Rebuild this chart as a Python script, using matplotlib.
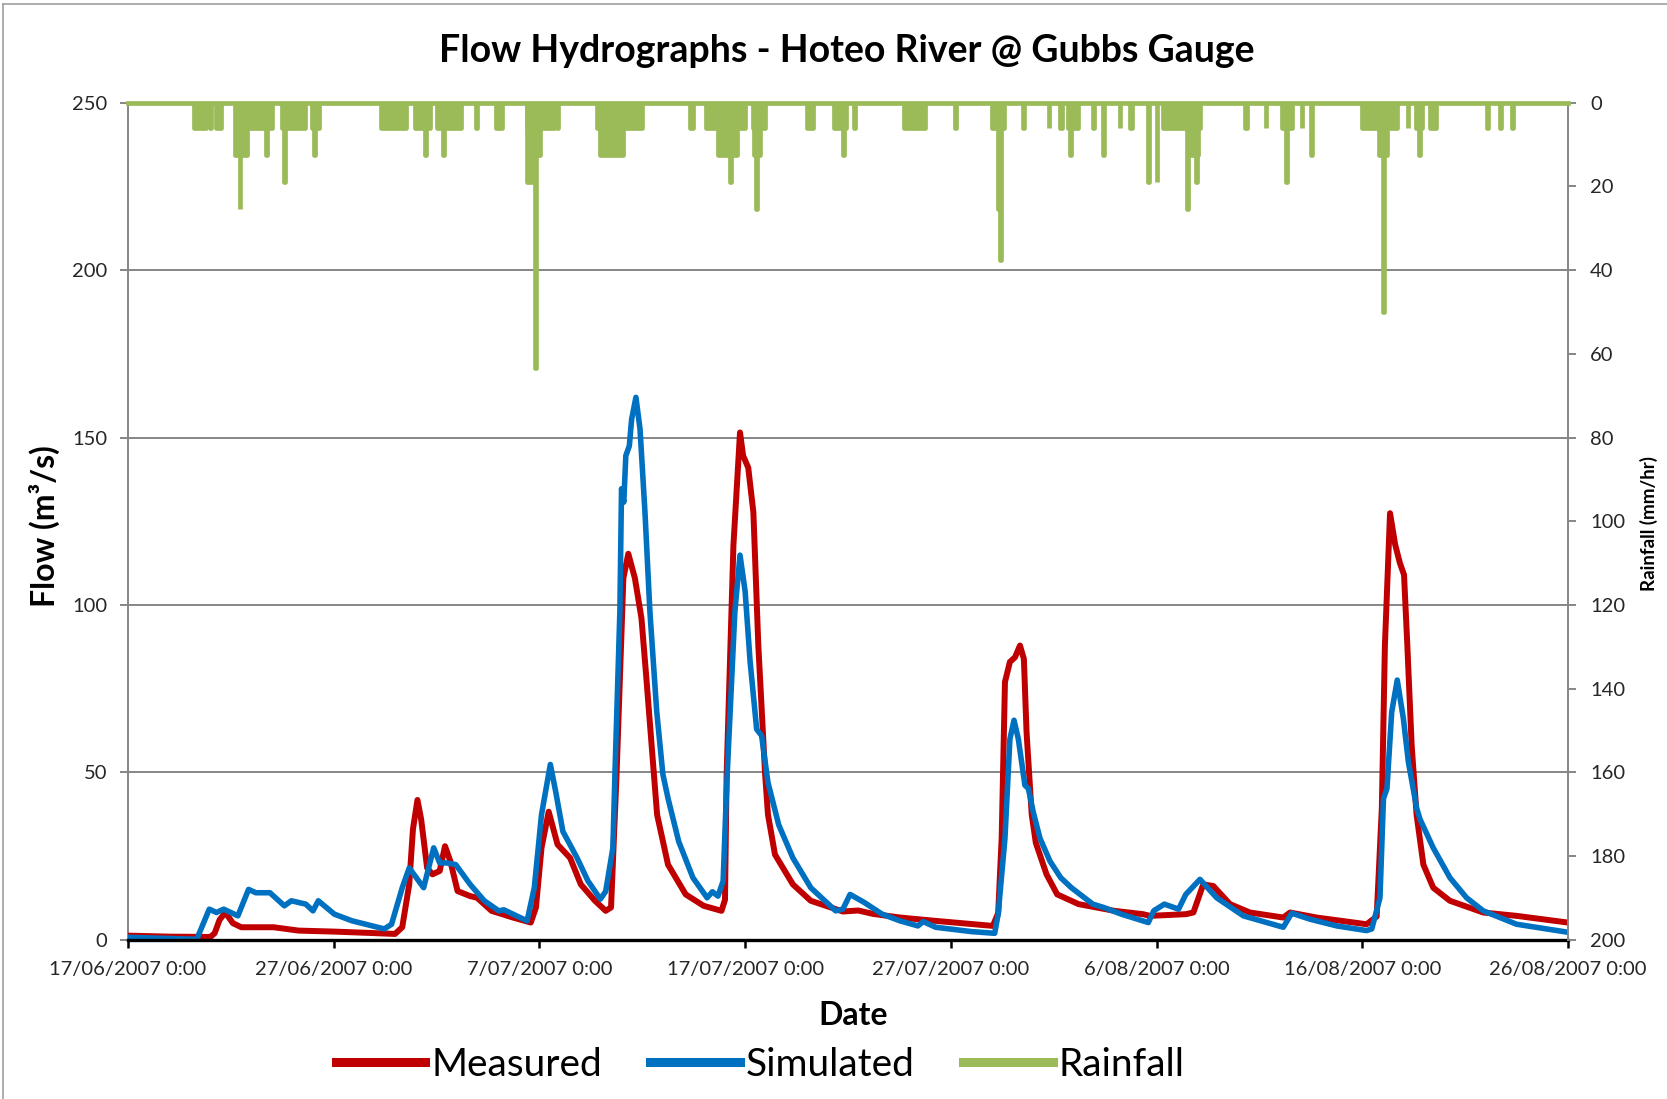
import numpy as np
import matplotlib
matplotlib.use("Agg")
import matplotlib.pyplot as plt
from matplotlib.lines import Line2D

plt.rcParams['font.family'] = ['Lato', 'DejaVu Sans']

# --- data (days after 17/06/2007 0:00) ---
measured_day = [0.0, 2.0, 4.0, 4.21, 4.45, 4.73, 5.1, 5.51, 7.08, 8.29, 10.03, 11.76, 12.98,
                13.33, 13.67, 13.85, 14.07, 14.25, 14.54, 14.8, 15.15, 15.41, 15.67, 16.02,
                16.63, 16.97, 17.67, 18.71, 19.58, 19.83, 20.1, 20.45, 20.88, 21.49, 22.01,
                22.7, 23.22, 23.48, 23.75, 24.08, 24.32, 24.64, 24.96, 25.2, 25.45, 25.72,
                26.25, 27.11, 27.98, 28.85, 29.02, 29.1, 29.43, 29.75, 29.9, 30.15, 30.4,
                30.64, 30.97, 31.11, 31.45, 32.32, 33.19, 34.75, 35.5, 36.2, 37.53, 39.26,
                42.04, 42.3, 42.47, 42.63, 42.87, 43.12, 43.36, 43.55, 43.68, 43.93, 44.13,
                44.65, 45.17, 46.21, 47.95, 49.34, 49.68, 51.42, 51.79, 52.27, 52.76, 53.57,
                54.54, 56.16, 56.49, 57.78, 60.21, 60.7, 60.95, 61.1, 61.35, 61.6, 61.83,
                62.03, 62.19, 62.4, 62.64, 62.97, 63.45, 64.26, 65.88, 67.5, 70.0]
measured_flow = [1.3, 1.0, 0.9, 2.0, 6.0, 8.2, 5.0, 3.8, 3.8, 2.8, 2.5, 2.1, 1.8,
                 3.8, 16.6, 33.0, 41.8, 36.0, 21.5, 19.6, 20.6, 28.0, 23.5, 14.6,
                 13.1, 12.6, 8.7, 6.7, 5.2, 9.7, 27.5, 38.3, 28.5, 24.5, 16.6,
                 11.7, 8.7, 9.7, 49.5, 108.0, 115.3, 108.0, 96.0, 78.0, 58.4, 37.4,
                 22.5, 13.6, 10.2, 8.7, 12.0, 49.5, 117.8, 151.5, 144.6, 141.0, 127.7,
                 88.0, 49.5, 37.4, 25.5, 16.6, 11.7, 8.5, 8.8, 7.8, 6.7, 5.7,
                 4.2, 8.0, 30.4, 77.0, 83.0, 84.4, 87.9, 83.9, 62.0, 37.5, 29.0,
                 19.6, 13.6, 10.7, 8.7, 7.7, 7.2, 7.7, 8.2, 16.6, 16.1, 10.7,
                 8.2, 6.7, 8.2, 6.7, 4.7, 7.0, 39.2, 88.0, 127.4, 118.0, 112.5,
                 109.0, 88.0, 58.2, 37.4, 22.5, 15.6, 11.7, 8.2, 7.2, 5.2]

simulated_day = [0.0, 3.34, 3.95, 4.3, 4.65, 5.34, 5.86, 6.21, 6.9, 7.6, 7.94, 8.64, 8.99,
                 9.25, 10.03, 10.9, 12.46, 12.81, 13.33, 13.67, 14.37, 14.86, 15.15, 15.5,
                 15.93, 16.63, 17.32, 18.02, 18.27, 19.4, 19.75, 20.1, 20.53, 20.79, 21.14,
                 21.83, 22.36, 22.96, 23.22, 23.57, 23.67, 23.91, 23.99, 24.1, 24.2, 24.37,
                 24.48, 24.69, 24.89, 25.13, 25.37, 25.7, 26.0, 26.25, 26.77, 27.46, 28.15,
                 28.41, 28.68, 28.93, 29.11, 29.5, 29.75, 30.0, 30.24, 30.56, 30.8, 31.11,
                 31.63, 32.32, 33.19, 34.4, 34.75, 35.1, 35.79, 36.66, 37.53, 38.4, 38.66,
                 39.26, 41.0, 42.13, 42.3, 42.63, 42.87, 43.07, 43.28, 43.6, 43.77, 44.0,
                 44.33, 44.82, 45.34, 45.86, 46.9, 47.43, 48.29, 49.6, 49.86, 50.38, 51.07,
                 51.42, 52.11, 52.92, 54.22, 56.16, 56.57, 57.46, 58.76, 60.21, 60.46, 60.86,
                 61.03, 61.2, 61.43, 61.7, 62.0, 62.24, 62.65, 62.81, 63.45, 64.26, 65.07,
                 65.88, 67.5, 70.0]
simulated_flow = [0.8, 0.2, 9.2, 8.2, 9.2, 7.2, 15.1, 14.1, 14.1, 10.2, 11.7, 10.7, 8.7,
                  11.7, 7.7, 5.7, 3.3, 4.7, 15.6, 21.5, 15.6, 27.5, 23.0, 23.0,
                  22.5, 16.6, 11.7, 8.7, 9.0, 5.7, 15.6, 37.4, 52.4, 44.3, 32.4,
                  24.5, 17.6, 12.2, 14.5, 27.5, 49.5, 98.0, 134.7, 130.7, 144.6, 147.5,
                  155.4, 162.0, 152.5, 127.7, 98.0, 68.3, 49.5, 42.3, 29.4, 18.6, 12.6,
                  14.4, 13.1, 17.6, 47.2, 98.0, 114.9, 104.0, 83.2, 62.9, 61.0, 47.0,
                  34.4, 24.5, 15.6, 8.7, 9.2, 13.6, 11.2, 7.7, 5.7, 4.2, 5.5,
                  3.8, 2.5, 2.0, 7.7, 30.4, 60.0, 65.6, 60.0, 46.2, 45.2, 38.3,
                  30.4, 23.5, 18.6, 15.6, 10.7, 9.7, 7.7, 5.2, 8.7, 10.7, 9.2,
                  13.6, 18.1, 12.6, 7.2, 3.8, 8.0, 6.2, 4.2, 2.8, 3.3, 12.6,
                  42.2, 45.2, 68.0, 77.6, 66.0, 53.2, 39.2, 36.0, 27.5, 18.6, 12.6,
                  8.7, 4.7, 2.3]

# rainfall events: start (days), duration (hours), intensity (mm/hr)
rain_start = [3.2, 4.0, 4.3, 5.2, 5.42, 5.8, 6.7, 7.5, 7.6, 8.3, 8.95, 9.05,
              12.3, 13.95, 14.2, 14.45, 15.0, 15.32, 16.9, 17.9,
              19.4, 19.4, 19.79, 19.85, 20.85, 22.8, 22.95,
              27.3, 28.1, 28.7, 29.25, 29.75, 30.4, 30.45, 30.55,
              33.0, 34.3, 34.78, 35.3, 37.7, 38.0, 40.2, 42.0, 42.3, 42.38,
              43.5, 44.75, 45.3, 45.7, 45.8, 46.9, 47.4, 48.2, 48.7,
              49.6, 50.0, 50.3, 51.47, 51.6, 51.93,
              54.3, 55.3, 56.1, 56.28, 57.05, 57.5,
              60.0, 60.8, 61.0, 61.35, 62.2, 62.6, 62.78, 63.3, 66.05, 66.7, 67.3]
rain_hours = [14, 1, 5, 14, 1, 29, 1, 17, 1, 7, 8, 1,
              29, 4, 12, 1, 29, 1, 1, 7,
              31, 6, 1, 4, 1, 53, 27,
              4, 36, 22, 2, 6, 14, 7, 1,
              7, 14, 1, 1, 5, 18, 1, 14, 2, 1,
              1, 1, 2, 12, 1, 1, 1, 1, 2,
              1, 1, 43, 1, 10, 1,
              2, 1, 12, 1, 1, 1,
              29, 10, 1, 8, 1, 7, 1, 7, 1, 1, 1]
rain_mm = [6, 6, 6, 12.5, 25.5, 6, 12.5, 6, 19, 6, 6, 12.5,
           6, 6, 6, 12.5, 6, 12.5, 6, 6,
           6, 19, 63.5, 12.5, 6, 6, 12.5,
           6, 6, 12.5, 19, 6, 6, 12.5, 25.5,
           6, 6, 12.5, 6, 6, 6, 6, 6, 25.5, 37.5,
           6, 6, 6, 6, 12.5, 6, 12.5, 6, 6,
           19, 19, 6, 25.5, 12.5, 19,
           6, 6, 6, 19, 6, 12.5,
           6, 12.5, 50, 6, 6, 6, 12.5, 6, 6, 6, 6]

tick_days = [0, 10, 20, 30, 40, 50, 60, 70]
tick_labels = ['17/06/2007 0:00', '27/06/2007 0:00', '7/07/2007 0:00', '17/07/2007 0:00',
               '27/07/2007 0:00', '6/08/2007 0:00', '16/08/2007 0:00', '26/08/2007 0:00']

RED = '#C00000'
BLUE = '#0070C0'
GREEN = '#9BBB59'
GRID = '#868686'
TXT = '#262626'

fig = plt.figure(figsize=(16.67, 10.99), dpi=100)
ax = fig.add_axes([0.0768, 0.1447, 0.8638, 0.762])
ax2 = ax.twinx()

ax.plot(measured_day, measured_flow, color=RED, lw=4.3, solid_joinstyle='round',
        solid_capstyle='round', zorder=3)
ax.plot(simulated_day, simulated_flow, color=BLUE, lw=4.0, solid_joinstyle='round',
        solid_capstyle='round', zorder=4)

ax.set_xlim(0, 70)
ax.set_ylim(0, 250)
ax.set_yticks(range(0, 251, 50))
ax.set_xticks(tick_days)
ax.set_xticklabels(tick_labels)
ax.grid(axis='y', color=GRID, lw=1.4)
ax.set_axisbelow(True)

# rainfall hangs from the top on an inverted secondary axis
ax2.bar(rain_start, rain_mm, width=np.array(rain_hours) / 24.0, align='edge',
        color=GREEN, edgecolor=GREEN, lw=3.4, joinstyle='round', zorder=2)
ax2.axhline(0, color=GREEN, lw=3.4, clip_on=False, zorder=3)
ax2.set_ylim(200, 0)
ax2.set_yticks(range(0, 201, 20))

for a in (ax, ax2):
    a.spines['top'].set_visible(False)
ax.spines['right'].set_visible(False)
ax2.spines['left'].set_visible(False)
ax2.spines['bottom'].set_visible(False)
ax.spines['left'].set_color(GRID)
ax.spines['left'].set_linewidth(1.4)
ax2.spines['right'].set_color(GRID)
ax2.spines['right'].set_linewidth(1.4)
ax.spines['bottom'].set_color('black')
ax.spines['bottom'].set_linewidth(2.4)
ax.spines['bottom'].set_zorder(5)

ax.tick_params(axis='x', direction='out', length=6, width=1.8, color='black',
               pad=9, labelsize=14.5, labelcolor=TXT)
ax.tick_params(axis='y', direction='out', length=6, width=1.4, color=GRID,
               pad=9, labelsize=14.5, labelcolor=TXT)
ax2.tick_params(axis='y', direction='out', length=6, width=1.4, color=GRID,
                pad=10, labelsize=14.5, labelcolor=TXT)

fig.text(0.508, 0.954, 'Flow Hydrographs - Hoteo River @ Gubbs Gauge',
         ha='center', va='center', fontsize=27, fontweight='bold')
fig.text(0.512, 0.0764, 'Date', ha='center', va='center', fontsize=23, fontweight='bold')
fig.text(0.0268, 0.521, 'Flow (m³/s)', ha='center', va='center', rotation=90,
         fontsize=23, fontweight='bold')
fig.text(0.989, 0.524, 'Rainfall (mm/hr)', ha='center', va='center', rotation=90,
         fontsize=13.5, fontweight='bold')

handles = [Line2D([], [], color=RED, lw=6.5),
           Line2D([], [], color=BLUE, lw=6.5),
           Line2D([], [], color=GREEN, lw=6.5)]
fig.legend(handles, ['Measured', 'Simulated', 'Rainfall'], loc='center',
           bbox_to_anchor=(0.456, 0.031), ncol=3, frameon=False, fontsize=28,
           handlelength=2.3, handletextpad=0.15, columnspacing=1.25)

# chart area border (top and left edges visible in the original)
fig.add_artist(Line2D([0.002, 0.002], [0.0, 0.996], transform=fig.transFigure,
                      color='#a0a0a0', lw=1.2))
fig.add_artist(Line2D([0.002, 1.0], [0.996, 0.996], transform=fig.transFigure,
                      color='#a0a0a0', lw=1.2))

fig.savefig('out.png', dpi=100)
